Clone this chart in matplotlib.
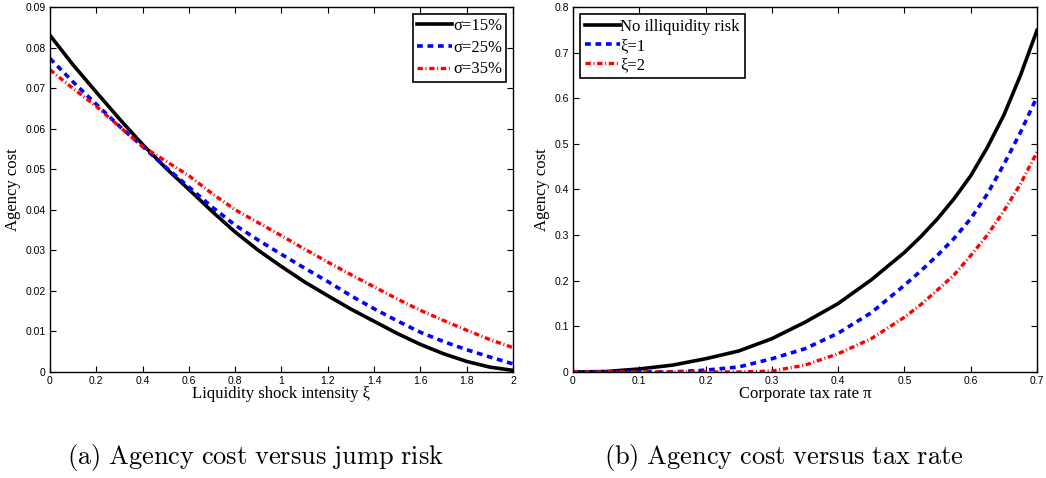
import matplotlib.pyplot as plt

# Panel (a): agency cost vs liquidity shock intensity
xi = [0.0, 0.1, 0.2, 0.3, 0.4, 0.5, 0.6, 0.7, 0.8, 0.9, 1.0,
      1.1, 1.2, 1.3, 1.4, 1.5, 1.6, 1.7, 1.8, 1.9, 2.0]
sig15 = [0.0830, 0.0757, 0.0690, 0.0624, 0.0561, 0.0503, 0.0450, 0.0396, 0.0345, 0.0300, 0.0260,
         0.0222, 0.0188, 0.0155, 0.0125, 0.0095, 0.0068, 0.0045, 0.0026, 0.0012, 0.0004]
sig25 = [0.0773, 0.0715, 0.0660, 0.0606, 0.0556, 0.0505, 0.0456, 0.0407, 0.0362, 0.0325, 0.0290,
         0.0256, 0.0223, 0.0188, 0.0156, 0.0126, 0.0098, 0.0075, 0.0055, 0.0037, 0.0020]
sig35 = [0.0745, 0.0699, 0.0655, 0.0605, 0.0556, 0.0520, 0.0484, 0.0440, 0.0400, 0.0368, 0.0336,
         0.0303, 0.0271, 0.0240, 0.0210, 0.0180, 0.0152, 0.0127, 0.0103, 0.0080, 0.0060]
leg_a = ['σ=15%', 'σ=25%', 'σ=35%']

# Panel (b): agency cost vs corporate tax rate
tau = [0.0, 0.05, 0.1, 0.15, 0.2, 0.25, 0.3, 0.35, 0.4, 0.45, 0.5, 0.525, 0.55,
       0.575, 0.6, 0.625, 0.65, 0.675, 0.7]
no_ill = [0.0, 0.001, 0.0066, 0.015, 0.029, 0.046, 0.073, 0.109, 0.150, 0.202, 0.262, 0.297, 0.336,
          0.380, 0.430, 0.492, 0.563, 0.650, 0.749]
xi1 = [0.0, 0.0, 0.0, 0.0, 0.004, 0.011, 0.029, 0.051, 0.085, 0.130, 0.190, 0.222, 0.256,
       0.293, 0.336, 0.390, 0.455, 0.525, 0.603]
xi2 = [0.0, 0.0, 0.0, 0.0, 0.0, 0.0, 0.002, 0.015, 0.040, 0.073, 0.120, 0.148, 0.180,
       0.213, 0.255, 0.300, 0.353, 0.412, 0.482]
leg_b = ['No illiquidity risk', 'ξ=1', 'ξ=2']

serif = ['Liberation Serif', 'DejaVu Serif']
plt.rcParams['font.family'] = ['Liberation Sans', 'DejaVu Sans']
plt.rcParams['mathtext.fontset'] = 'cm'

fig = plt.figure(figsize=(10.46, 4.78), dpi=100)
ax1 = fig.add_axes([0.0478, 0.2218, 0.4426, 0.7636])
ax2 = fig.add_axes([0.5478, 0.2218, 0.4436, 0.7636])

styles = [dict(color='black', ls='-', lw=2.6),
          dict(color='blue', ls=(0, (1.6, 1.3)), lw=2.6),
          dict(color='red', ls=(0, (1.6, 0.8, 0.3, 0.8)), lw=2.4)]

for ys, lab, st in zip([sig15, sig25, sig35], leg_a, styles):
    ax1.plot(xi, ys, label=lab, **st)
for ys, lab, st in zip([no_ill, xi1, xi2], leg_b, styles):
    ax2.plot(tau, ys, label=lab, **st)

ax1.set_xlim(0, 2)
ax1.set_ylim(0, 0.09)
ax1.set_xticks([0, 0.2, 0.4, 0.6, 0.8, 1, 1.2, 1.4, 1.6, 1.8, 2])
ax1.set_xticklabels(['0', '0.2', '0.4', '0.6', '0.8', '1', '1.2', '1.4', '1.6', '1.8', '2'])
ax1.set_yticks([0, 0.01, 0.02, 0.03, 0.04, 0.05, 0.06, 0.07, 0.08, 0.09])
ax1.set_yticklabels(['0', '0.01', '0.02', '0.03', '0.04', '0.05', '0.06', '0.07', '0.08', '0.09'])
ax1.set_xlabel('Liquidity shock intensity ξ', family=serif, fontsize=12, labelpad=0)

ax2.set_xlim(0, 0.7)
ax2.set_ylim(0, 0.8)
ax2.set_xticks([0, 0.1, 0.2, 0.3, 0.4, 0.5, 0.6, 0.7])
ax2.set_xticklabels(['0', '0.1', '0.2', '0.3', '0.4', '0.5', '0.6', '0.7'])
ax2.set_yticks([0, 0.1, 0.2, 0.3, 0.4, 0.5, 0.6, 0.7, 0.8])
ax2.set_yticklabels(['0', '0.1', '0.2', '0.3', '0.4', '0.5', '0.6', '0.7', '0.8'])
ax2.set_xlabel('Corporate tax rate π', family=serif, fontsize=12, labelpad=0)

for ax in (ax1, ax2):
    ax.set_ylabel('Agency cost', family=serif, fontsize=12, labelpad=3)
    ax.tick_params(direction='in', top=True, right=True, labelsize=7.5, length=4, width=0.8, pad=3)
    for sp in ax.spines.values():
        sp.set_linewidth(1.0)

leg1 = ax1.legend(loc='upper right', prop={'family': serif, 'size': 12}, fancybox=False,
                  edgecolor='black', framealpha=1, handlelength=2.1, handletextpad=0.05,
                  borderpad=0.25, labelspacing=0.35, borderaxespad=0.4)
leg2 = ax2.legend(loc='upper left', prop={'family': serif, 'size': 12}, fancybox=False,
                  edgecolor='black', framealpha=1, handlelength=2.1, handletextpad=0.05,
                  borderpad=0.3, labelspacing=0.2, borderaxespad=0.4)
for lg in (leg1, leg2):
    lg.get_frame().set_linewidth(1.2)

fig.text(0.244, 0.03, r'$\mathrm{(a)\ Agency\ cost\ versus\ jump\ risk}$', ha='center', fontsize=19)
fig.text(0.749, 0.03, r'$\mathrm{(b)\ Agency\ cost\ versus\ tax\ rate}$', ha='center', fontsize=19)

fig.savefig('out.png', dpi=100)
